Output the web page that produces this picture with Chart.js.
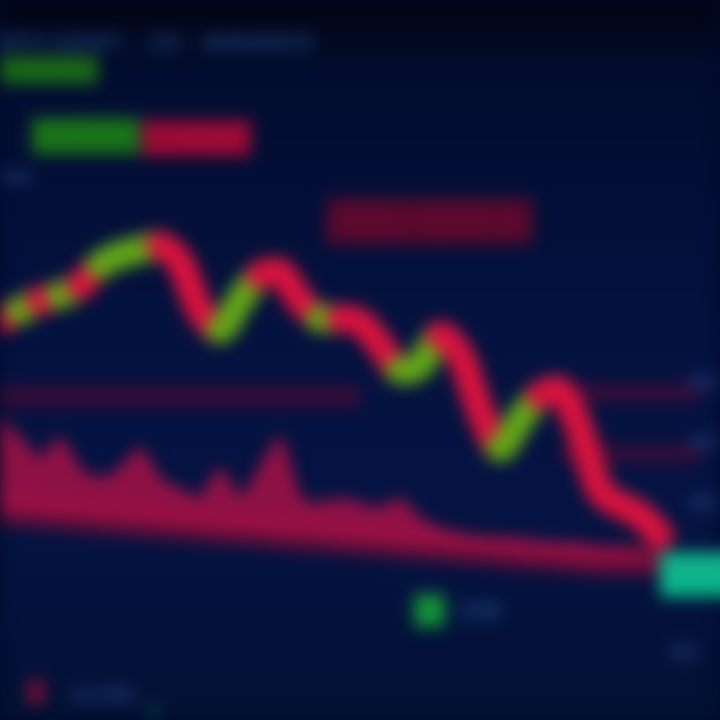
<!DOCTYPE html>
<html><head><meta charset="utf-8">
<script src="https://cdn.jsdelivr.net/npm/chart.js@4.4.1/dist/chart.umd.min.js"></script>
<style>
html,body{margin:0;padding:0;width:720px;height:720px;overflow:hidden;background:#020a2c;}
#stage{position:absolute;left:0;top:0;width:720px;height:720px;filter:blur(8px);
 background:linear-gradient(180deg,#000410 0%,#020c30 10%,#03113e 45%,#041342 70%,#021034 100%);}
canvas{position:absolute;left:0;top:0;}
.t{position:absolute;font-family:'DejaVu Sans',sans-serif;font-weight:bold;white-space:nowrap;}
</style></head><body>
<div id="stage">
<canvas id="c" width="720" height="720"></canvas>
<div class="t" style="left:0;top:30px;font-size:22px;color:#1e3c74;">BTC/USDT · 1H · BINANCE</div>
<div class="t" style="left:0;top:56px;font-size:20px;color:#1c6e1c;background:#186418;padding:2px 6px;">+2.84%</div>
<div class="t" style="left:32px;top:118px;font-size:24px;color:#1e7c1e;background:#187018;padding:4px 6px;">O 6452</div>
<div class="t" style="left:142px;top:120px;font-size:24px;color:#a80c38;background:#960a34;padding:4px 8px;">C 6318</div>
<div class="t" style="left:0;top:166px;font-size:18px;color:#24447c;">Vol</div>
<div class="t" style="left:326px;top:198px;font-size:26px;color:#6c0a32;background:#54092c;padding:8px 14px;">SELL 6290.5</div>
<div class="t" style="left:660px;top:552px;font-size:22px;color:#10b890;background:#0cb088;padding:10px 8px;">6204</div>
<div class="t" style="left:414px;top:594px;font-size:22px;color:#14963c;background:#128c38;padding:4px 6px;">●</div>
<div class="t" style="left:458px;top:598px;font-size:20px;color:#24508e;">12K</div>
<div class="t" style="left:690px;top:370px;font-size:20px;color:#24447c;">64</div>
<div class="t" style="left:690px;top:430px;font-size:20px;color:#24447c;">63</div>
<div class="t" style="left:690px;top:490px;font-size:20px;color:#24447c;">62</div>
<div class="t" style="left:670px;top:640px;font-size:20px;color:#24447c;">61</div>
<div class="t" style="left:28px;top:680px;font-size:20px;color:#901038;background:#7a1034;padding:0 4px;">-</div>
<div class="t" style="left:70px;top:682px;font-size:20px;color:#24447c;">12:00</div>
<div class="t" style="left:145px;top:698px;font-size:20px;color:#148a38;">+</div>
</div>
<script>
const idx = [0,1,2,3,4,5,6,7,8,9,10,11,12,13,14,15,16,17,18,19,20,21,22,23,24,25,26,27,28,29,30,31,32,33];
const prices = [55.6,56.9,58.3,59.0,60.4,63.2,64.6,65.3,66.0,63.6,56.9,54.2,58.3,61.8,62.2,58.3,55.8,55.8,55.3,52.1,48.6,49.3,53.5,50.7,43.1,37.8,41.7,45.1,45.8,40.3,31.9,29.9,28.5,25.7];
const candleDir = ['d','u','d','u','d','u','u','u','d','d','d','u','u','d','d','d','u','d','d','d','u','u','d','d','d','u','u','d','d','d','d','d','d'];
const volumeTop = [41.7,38.9,36.1,38.9,34.7,33.3,34.7,37.5,33.3,31.9,30.6,34.7,30.6,34.7,38.9,30.6,29.9,30.6,29.9,29.2,30.6,27.8,26.4,25.7,25.0,25.0,25.0,24.3,24.3,24.3,23.6,23.6,22.9,22.2];
const baseBand = [29.2,29.0,28.8,28.5,28.3,28.0,27.8,27.6,27.3,27.1,26.9,26.6,26.4,26.2,25.9,25.7,25.5,25.2,25.0,24.8,24.5,24.3,24.1,23.8,23.6,23.4,23.1,22.9,22.7,22.4,22.2,22.2,22.2,22.2];
const resistA = [45.0,45.0,45.0,45.0,45.0,45.0,45.0,45.0,45.0,45.0,45.0,45.0,45.0,45.0,45.0,45.0,45.0,45.0,45.0];
const resistB = [45.5,45.5,45.5,45.5,45.5,45.5,45.5,45.5];
const resistC = [37.0,37.0,37.0,37.0,37.0,37.0,37.0,37.0];

const RED='#d8123e', GREEN='#62a418';
const pts = (ys, off=0) => ys.map((y,i)=>({x:idx[i]+off,y}));

new Chart(document.getElementById('c'),{
  type:'line',
  data:{datasets:[
    {label:'price',data:pts(prices),borderWidth:28,pointRadius:0,tension:0.3,borderCapStyle:'round',borderJoinStyle:'round',
      segment:{borderColor:ctx=>candleDir[ctx.p0DataIndex]==='u'?GREEN:RED},order:0},
    {label:'volume',data:pts(volumeTop),borderColor:'#a80e44',borderWidth:4,pointRadius:0,tension:0.2,
      backgroundColor:'rgba(176,18,70,0.8)',fill:'+1',order:2},
    {label:'band',data:pts(baseBand),borderColor:'rgba(100,14,58,0.95)',borderWidth:30,pointRadius:0,fill:false,order:3},
    {label:'resA',data:pts(resistA),borderColor:'rgba(60,12,56,0.9)',borderWidth:22,pointRadius:0,fill:false,order:4},
    {label:'resB',data:pts(resistB,28),borderColor:'rgba(60,12,56,0.9)',borderWidth:18,pointRadius:0,fill:false,order:4},
    {label:'resC',data:pts(resistC,28),borderColor:'rgba(60,12,56,0.9)',borderWidth:18,pointRadius:0,fill:false,order:4}
  ]},
  options:{
    responsive:false,animation:false,
    layout:{padding:0},
    plugins:{legend:{display:false},tooltip:{enabled:false}},
    scales:{
      x:{type:'linear',min:0,max:36,display:false},
      y:{min:0,max:100,display:false}
    }
  }
});
</script>
</body></html>
